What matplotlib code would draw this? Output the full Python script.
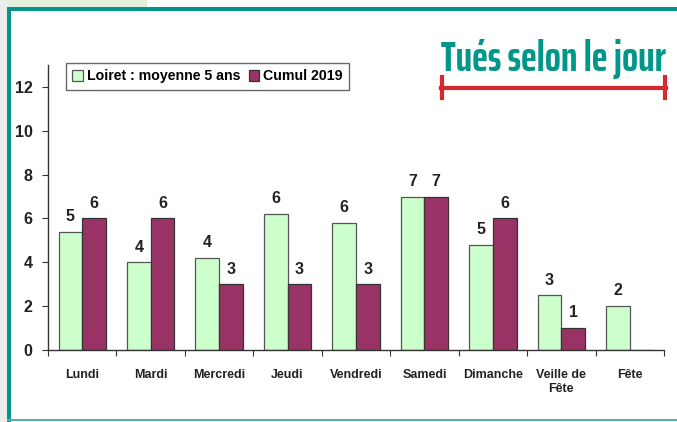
import matplotlib
matplotlib.use("Agg")
import matplotlib.pyplot as plt
from matplotlib.patches import Rectangle
from matplotlib.lines import Line2D
import numpy as np

categories = ["Lundi", "Mardi", "Mercredi", "Jeudi", "Vendredi", "Samedi", "Dimanche", "Veille de\nFête", "Fête"]
loiret = [5.4, 4.0, 4.2, 6.2, 5.8, 7.0, 4.8, 2.5, 2.0]
loiret_labels = ["5", "4", "4", "6", "6", "7", "5", "3", "2"]
cumul = [6, 6, 3, 3, 3, 7, 6, 1, 0]
cumul_labels = ["6", "6", "3", "3", "3", "7", "6", "1", ""]
yticks = [0, 2, 4, 6, 8, 10, 12]

W, H = 677, 422
fig = plt.figure(figsize=(W/100, H/100), dpi=100)
fig.patch.set_facecolor("white")

def px(x, y, w, h, **kw):
    fig.patches.append(Rectangle((x/W, 1-(y+h)/H), w/W, h/H, transform=fig.transFigure, **kw))

# page decorations
px(0, 0, 7, H, facecolor="#ECECEC", edgecolor="none")
px(7, 0, 140, 7, facecolor="#E3EFDC", edgecolor="none")
px(7, 7, W-7, 4, facecolor="#00968A", edgecolor="none")
px(7, 7, 4, H-7, facecolor="#00968A", edgecolor="none")
px(7, 419, W-7, 2, facecolor="#4FB3AA", edgecolor="none")

ax = fig.add_axes([48/W, 1-350/H, (664-48)/W, (350-65)/H])
x = np.arange(len(categories))
bw = 0.345
green = "#CCFFCC"
purple = "#993366"
ax.bar(x - bw/2, loiret, bw, color=green, edgecolor="#555555", linewidth=0.9, label="Loiret : moyenne 5 ans")
ax.bar(x + bw/2, cumul, bw, color=purple, edgecolor="#333333", linewidth=0.9, label="Cumul 2019")

fp = dict(family="Liberation Sans", weight="bold")
for xi, v, lab in zip(x, loiret, loiret_labels):
    ax.text(xi - bw/2, v + 0.35, lab, ha="center", va="bottom", fontsize=11.5, color="#222222", **fp)
for xi, v, lab in zip(x, cumul, cumul_labels):
    if lab:
        ax.text(xi + bw/2, v + 0.35, lab, ha="center", va="bottom", fontsize=11.5, color="#222222", **fp)

ax.set_xlim(-0.5, len(categories) - 0.5)
ax.set_ylim(0, 13)
ax.set_yticks(yticks)
ax.set_yticklabels([str(t) for t in yticks], fontsize=11.5, color="#222222", **fp)
ax.set_xticks(np.arange(len(categories) + 1) - 0.5)
ax.set_xticklabels([])
ax.set_xticks(x, minor=True)
ax.set_xticklabels(categories, minor=True, fontsize=9, color="#222222", **fp)
ax.tick_params(axis="x", which="minor", length=0, pad=14)
ax.tick_params(axis="x", which="major", length=4, direction="out", color="#333333")
ax.tick_params(axis="y", length=4, direction="out", color="#333333", pad=7)
for s in ["top", "right"]:
    ax.spines[s].set_visible(False)
for s in ["left", "bottom"]:
    ax.spines[s].set_color("#333333")
    ax.spines[s].set_linewidth(1.0)

leg = ax.legend(loc="upper left", bbox_to_anchor=(18/616, 1.007), ncol=2, frameon=True, fancybox=False,
                prop=dict(family="Liberation Sans", weight="bold", size=10.2), handlelength=0.75,
                handleheight=0.75, handletextpad=0.3, columnspacing=0.55, borderpad=0.45, borderaxespad=0)
leg.get_frame().set_edgecolor("#444444")
leg.get_frame().set_linewidth(1.0)

# title fitted to the bracket width
t = fig.text(441/W, 1-71/H, "Tués selon le jour", ha="left", va="baseline", fontsize=30, color="#00968A",
             family="Saira ExtraCondensed", weight="bold")
r = fig.canvas.get_renderer()
bb = t.get_window_extent(r)
t.set_fontsize(30 * 226 / bb.width)

yb = 1 - 88/H
fig.lines.append(Line2D([441/W, 666/W], [yb, yb], transform=fig.transFigure, color="#D42A2F", linewidth=3))
for xx in (442, 665):
    fig.lines.append(Line2D([xx/W, xx/W], [1-77/H, 1-98/H], transform=fig.transFigure, color="#D42A2F", linewidth=3))

fig.savefig("out.png", dpi=100)
